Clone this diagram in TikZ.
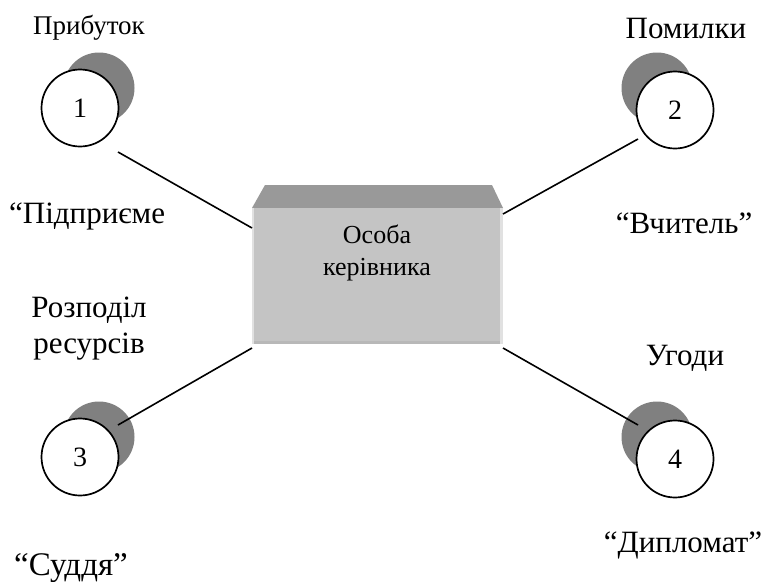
\documentclass[tikz,border=0pt]{standalone}
\usepackage{fontspec}
\setmainfont{Liberation Serif}
\begin{document}
\begin{tikzpicture}[x=1pt,y=-1pt,
  lbl/.style={anchor=base,inner sep=0pt,font=\fontsize{31}{34}\selectfont},
  smalllbl/.style={anchor=base,inner sep=0pt,font=\fontsize{27}{30}\selectfont},
  boxlbl/.style={anchor=base,inner sep=0pt,font=\fontsize{26}{30}\selectfont},
  numcircle/.style={circle,draw=black,line width=1.7pt,fill=white,minimum size=77pt,inner sep=0pt,font=\fontsize{28}{30}\selectfont},
  shade/.style={circle,fill=gray50,minimum size=71pt,inner sep=0pt},
  link/.style={line width=1.6pt,black}]
\definecolor{gray50}{RGB}{128,128,128}
\definecolor{boxfront}{RGB}{196,196,196}
\definecolor{boxtop}{RGB}{153,153,153}
\definecolor{boxedge}{RGB}{225,225,225}
\definecolor{boxbottom}{RGB}{184,184,184}
\useasboundingbox[fill=white] (0,0) rectangle (767,581);

% central box with bevelled top
\fill[boxtop] (265,185) -- (492,185) -- (503,208) -- (252,208) -- cycle;
\fill[boxedge] (252,208) rectangle (503,344);
\fill[boxfront] (254,208) rectangle (500,342);
\fill[boxbottom] (254,341) rectangle (500,344);
\coordinate (boxnw) at (252,228);
\coordinate (boxne) at (503,214);
\coordinate (boxsw) at (252,348);
\coordinate (boxse) at (503,348);
\node[boxlbl] (boxtxt1) at (377,243) {Особа};
\node[boxlbl] (boxtxt2) at (377,275) {керівника};

% shadow discs behind the numbered circles
\node[shade] (s1) at (99,88) {};
\node[shade] (s2) at (657,88) {};
\node[shade] (s3) at (99,437) {};
\node[shade] (s4) at (657,437) {};

% connectors from the box to the circles
\coordinate (e1) at (118,152);
\coordinate (e2) at (638,139);
\coordinate (e3) at (118,425);
\coordinate (e4) at (638,425);
\draw[link] (boxnw) -- (e1);
\draw[link] (boxne) -- (e2);
\draw[link] (boxsw) -- (e3);
\draw[link] (boxse) -- (e4);

% numbered circles
\node[numcircle] (c1) at (80,108) {1};
\node[numcircle] (c2) at (675,110) {2};
\node[numcircle] (c3) at (80,457) {3};
\node[numcircle] (c4) at (675,459) {4};

% labels
\node[smalllbl] (t1) at (89,34) {Прибуток};
\node[lbl] (t2) at (686,38) {Помилки};
\node[lbl,anchor=base west] (r1) at (9,223) {“Підприєме};
\node[lbl] (r2) at (684,233) {“Вчитель”};
\node[lbl] (t3a) at (89,317) {Розподіл};
\node[lbl] (t3b) at (89,353) {ресурсів};
\node[lbl] (t4) at (685,365) {Угоди};
\node[lbl,font=\fontsize{33}{36}\selectfont] (r3) at (71,575) {“Суддя”};
\node[lbl] (r4) at (683,552) {“Дипломат”};
\end{tikzpicture}
\end{document}
